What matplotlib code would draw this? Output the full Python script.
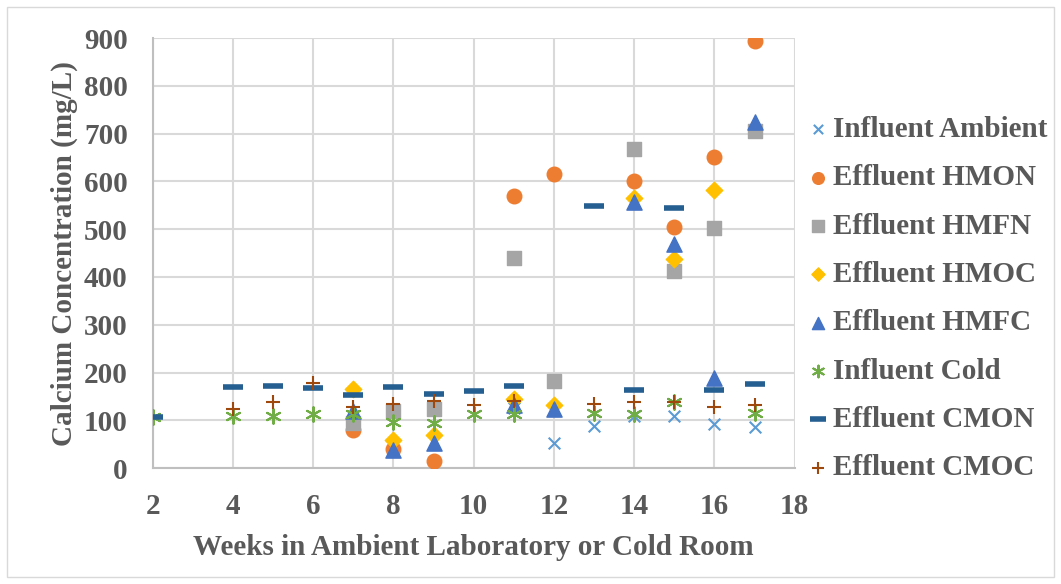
import numpy as np
import matplotlib.pyplot as plt
from matplotlib.patches import Rectangle

# weeks and calcium readings (mg/L) per series
inf_amb_x = [9, 11, 12, 13, 14, 15, 16, 17]
inf_amb_y = [5, 125, 53, 88, 110, 110, 93, 86]

hmon_x = [7, 8, 9, 11, 12, 14, 15, 16, 17]
hmon_y = [80, 40, 15, 569, 615, 601, 504, 651, 893]

hmfn_x = [7, 8, 9, 11, 12, 14, 15, 16, 17]
hmfn_y = [95, 120, 124, 440, 183, 668, 413, 502, 706]

hmoc_x = [7, 8, 9, 11, 12, 14, 15, 16]
hmoc_y = [165, 59, 70, 145, 131, 565, 438, 582]

hmfc_x = [7, 8, 9, 11, 12, 14, 15, 16, 17]
hmfc_y = [120, 38, 53, 131, 124, 556, 470, 188, 724]

inf_cold_x = [2, 4, 5, 6, 7, 8, 9, 10, 11, 13, 14, 15, 17]
inf_cold_y = [106, 108, 110, 114, 113, 97, 95, 113, 113, 116, 113, 139, 116]

cmon_x = [2, 4, 5, 6, 7, 8, 9, 10, 11, 13, 14, 15, 16, 17]
cmon_y = [106, 169, 171, 167, 153, 169, 156, 162, 171, 549, 164, 545, 164, 175]

cmoc_x = [4, 5, 6, 7, 8, 9, 10, 11, 13, 14, 15, 16, 17]
cmoc_y = [124, 138, 179, 127, 134, 141, 131, 141, 134, 138, 138, 127, 131]

txt = '#595959'
fs = 21
plt.rcParams['font.family'] = ['Liberation Serif', 'DejaVu Serif']
plt.rcParams['font.weight'] = 'bold'

fig = plt.figure(figsize=(10.61, 5.84), dpi=100)
ax = fig.add_axes([0.144, 0.1985, 0.605, 0.7363])

ax.scatter(inf_amb_x, inf_amb_y, marker='x', s=70, color='#5B9BD5', linewidths=1.5,
           label='Influent Ambient', zorder=3)
ax.scatter(hmon_x, hmon_y, marker='o', s=110, color='#ED7D31', label='Effluent HMON', zorder=3)
ax.scatter(hmfn_x, hmfn_y, marker='s', s=110, color='#A5A5A5', label='Effluent HMFN', zorder=3)
ax.scatter(hmoc_x, hmoc_y, marker='D', s=70, color='#FFC000', label='Effluent HMOC', zorder=3)
ax.scatter(hmfc_x, hmfc_y, marker='^', s=120, color='#4472C4', label='Effluent HMFC', zorder=3)
ax.scatter(inf_cold_x, inf_cold_y, marker=(6, 2, 0), s=110, color='#70AD47', linewidths=1.5,
           label='Influent Cold', zorder=3)
ax.scatter(cmon_x, cmon_y, marker='_', s=200, color='#255E91', linewidths=4,
           label='Effluent CMON', zorder=3)
ax.scatter(cmoc_x, cmoc_y, marker='+', s=110, color='#9E480E', linewidths=1.5,
           label='Effluent CMOC', zorder=3)

ax.set_xlim(2, 18)
ax.set_ylim(0, 900)
ax.set_xticks(np.arange(2, 19, 2))
ax.set_yticks(np.arange(0, 901, 100))
ax.grid(True, color='#D9D9D9', linewidth=1.5, zorder=0)
ax.set_axisbelow(True)
for s in ['top', 'right']:
    ax.spines[s].set_visible(False)
for s in ['left', 'bottom']:
    ax.spines[s].set_color('#BFBFBF')
    ax.spines[s].set_linewidth(1.5)
ax.tick_params(length=0, labelsize=fs, colors=txt)
ax.tick_params(axis='y', pad=18)
ax.tick_params(axis='x', pad=18)
for lbl in ax.get_xticklabels() + ax.get_yticklabels():
    lbl.set_fontweight('bold')

ax.set_xlabel('Weeks in Ambient Laboratory or Cold Room', fontsize=fs, color=txt,
              fontweight='bold', labelpad=10)
ax.set_ylabel('Calcium Concentration (mg/L)', fontsize=fs, color=txt,
              fontweight='bold', labelpad=4)

leg = ax.legend(loc='center left', bbox_to_anchor=(1.0, 0.394), frameon=False,
                fontsize=fs, labelspacing=0.73, handletextpad=0.2, handlelength=0.6,
                borderaxespad=0.1, markerscale=0.8)
for t in leg.get_texts():
    t.set_color(txt)
    t.set_fontweight('bold')

fig.patches.append(Rectangle((0.007, 0.012), 0.986, 0.976, transform=fig.transFigure,
                             fill=False, edgecolor='#D9D9D9', linewidth=1))

fig.savefig('out.png', dpi=100)
